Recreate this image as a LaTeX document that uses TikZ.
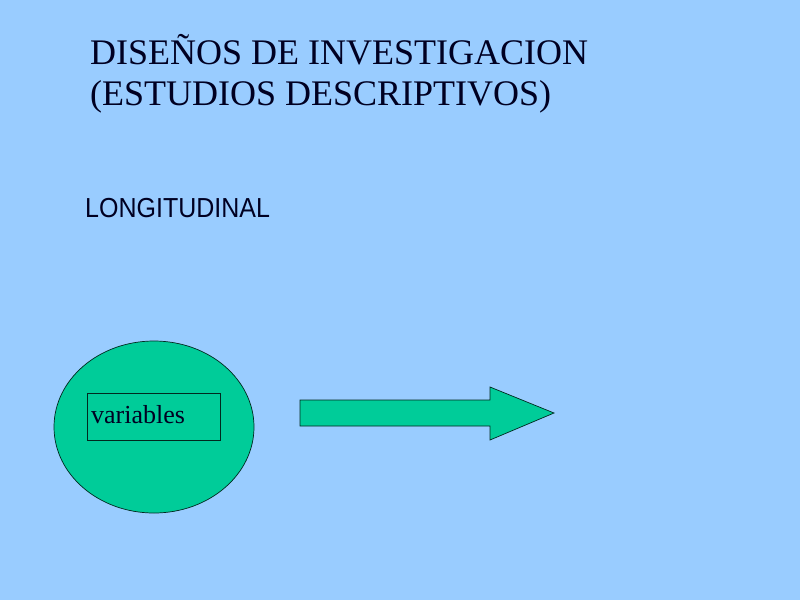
\documentclass[tikz,border=0pt]{standalone}
\usepackage{fontspec}
\setmainfont{Liberation Serif}
\newfontfamily\sansfnt{Liberation Sans}
\usetikzlibrary{shapes.geometric}
\definecolor{fondo}{HTML}{99CCFF}
\definecolor{verde}{HTML}{00CC99}
\definecolor{tinta}{HTML}{000022}

\begin{document}
\begin{tikzpicture}[x=1pt,y=-1pt,
    titulo/.style={anchor=base west,inner sep=0pt,text=tinta,font=\fontsize{36}{36}\selectfont},
    rotulo/.style={anchor=base west,inner sep=0pt,text=tinta,yscale=1.1,font=\sansfnt\fontsize{25}{25}\selectfont},
    figura/.style={fill=verde,draw=black!80!verde,line width=0.7pt}]
    \fill[fondo] (0,0) rectangle (800,600);
    \useasboundingbox (0,0) rectangle (800,600);
    \node[titulo] (tit1) at (90,64) {DISEÑOS DE INVESTIGACION};
    \node[titulo] (tit2) at (90,105) {(ESTUDIOS DESCRIPTIVOS)};
    \node[rotulo] (longi) at (85,217) {LONGITUDINAL};
    \node[figura,ellipse,minimum width=200,minimum height=172] (elip) at (154,427) {};
    \node[draw=black!80!verde,line width=0.7pt,minimum width=133,minimum height=47,
          inner sep=0pt] (caja) at (153.5,416.5) {};
    \node[anchor=base west,inner sep=0pt,text=tinta,font=\fontsize{26}{26}\selectfont]
          (var) at (91,423) {variables};
    % flecha
    \draw[figura] (300,400) -- (490,400) -- (490,387) -- (554,413)
        -- (490,440) -- (490,426) -- (300,426) -- cycle;
\end{tikzpicture}
\end{document}
